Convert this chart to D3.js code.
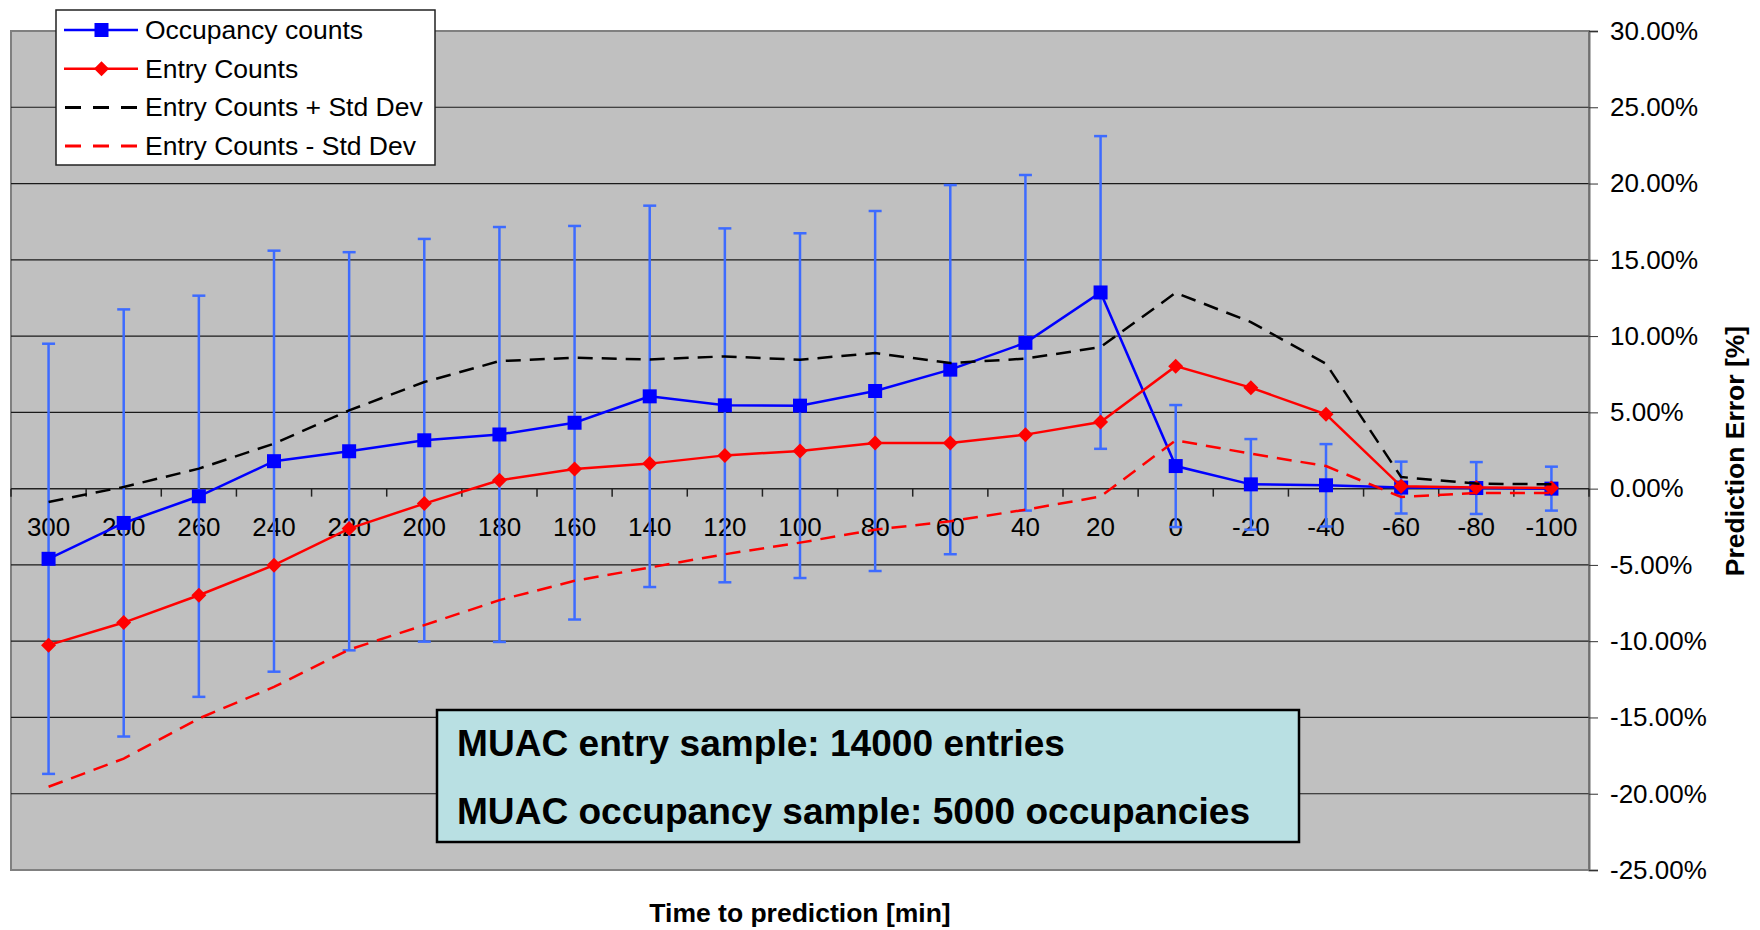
<!DOCTYPE html>
<html>
<head>
<meta charset="utf-8">
<script src="https://cdn.jsdelivr.net/npm/d3@7"></script>
<style>
  body { margin: 0; background: #fff; }
  svg { display: block; font-family: "Liberation Sans", Arial, sans-serif; }
</style>
</head>
<body>
<div id="chart"></div>
<script>
// time to prediction [min]
const categories = [300, 280, 260, 240, 220, 200, 180, 160, 140, 120, 100, 80, 60, 40, 20, 0, -20, -40, -60, -80, -100];
// prediction error [%]
const occupancy = [-4.6, -2.25, -0.5, 1.8, 2.45, 3.17, 3.55, 4.32, 6.05, 5.46, 5.44, 6.4, 7.8, 9.56, 12.86, 1.48, 0.28, 0.22, 0.07, 0.04, 0.0];
const occupancyErr = [14.1, 14.0, 13.15, 13.8, 13.05, 13.2, 13.6, 12.9, 12.5, 11.6, 11.3, 11.8, 12.1, 11.0, 10.25, 4.0, 2.97, 2.7, 1.7, 1.7, 1.44];
const entry = [-10.26, -8.78, -6.99, -5.02, -2.62, -0.98, 0.55, 1.29, 1.64, 2.18, 2.47, 2.99, 2.99, 3.54, 4.37, 8.03, 6.62, 4.87, 0.15, 0.07, 0.04];
const entryPlusStd = [-0.87, 0.11, 1.31, 2.95, 5.13, 6.99, 8.36, 8.58, 8.47, 8.67, 8.45, 8.89, 8.23, 8.52, 9.28, 12.84, 10.92, 8.19, 0.76, 0.33, 0.28];
const entryMinusStd = [-19.54, -17.7, -15.07, -13.0, -10.55, -8.95, -7.31, -6.04, -5.17, -4.3, -3.54, -2.69, -2.14, -1.38, -0.52, 3.17, 2.29, 1.48, -0.55, -0.28, -0.28];
const yTicks = [30, 25, 20, 15, 10, 5, 0, -5, -10, -15, -20, -25];
const legendLabels = ["Occupancy counts", "Entry Counts", "Entry Counts + Std Dev", "Entry Counts - Std Dev"];
const noteLines = ["MUAC entry sample: 14000 entries", "MUAC occupancy sample: 5000 occupancies"];

const width = 1760, height = 930;
const plot = { left: 11, right: 1589, top: 31, bottom: 870 };

const svg = d3.select("#chart").append("svg").attr("width", width).attr("height", height);

const x = d3.scaleBand().domain(categories).range([plot.left, plot.right]).padding(0);
const cx = c => x(c) + x.bandwidth() / 2;
const y = d3.scaleLinear().domain([-25, 30]).range([plot.bottom, plot.top]);

// plot area
svg.append("rect")
    .attr("x", plot.left).attr("y", plot.top)
    .attr("width", plot.right - plot.left).attr("height", plot.bottom - plot.top)
    .attr("fill", "#c0c0c0")
    .attr("stroke", "#808080")
    .attr("stroke-width", 2);

// gridlines
svg.append("g")
    .selectAll("line")
    .data(yTicks.filter(t => t !== 0 && t !== 30 && t !== -25))
    .enter().append("line")
    .attr("x1", plot.left).attr("x2", plot.right)
    .attr("y1", d => y(d)).attr("y2", d => y(d))
    .attr("stroke", "#1a1a1a")
    .attr("stroke-width", 1.2);

// right value axis (plain hyphen for negatives, like the original)
const pct = d => d3.format(".2f")(d).replace("\u2212", "-") + "%";
const yAxis = svg.append("g")
    .attr("transform", `translate(${plot.right},0)`)
    .call(d3.axisRight(y).tickValues(yTicks).tickSize(9).tickPadding(12).tickFormat(pct));
yAxis.select(".domain").attr("stroke", "#707070").attr("stroke-width", 2);
yAxis.selectAll(".tick line").attr("stroke", "#333");
yAxis.selectAll("text")
    .attr("font-size", 26)
    .attr("font-family", "Liberation Sans, Arial, sans-serif")
    .attr("fill", "#000");

// category axis at 0
const xAxis = svg.append("g")
    .attr("transform", `translate(0,${y(0)})`)
    .call(d3.axisBottom(x).tickSize(0).tickPadding(29));
xAxis.select(".domain").remove();
xAxis.selectAll("text")
    .attr("font-size", 26)
    .attr("font-family", "Liberation Sans, Arial, sans-serif")
    .attr("fill", "#000");
svg.append("line")
    .attr("x1", plot.left).attr("x2", plot.right)
    .attr("y1", y(0)).attr("y2", y(0))
    .attr("stroke", "#222").attr("stroke-width", 1.5);
svg.append("g")
    .selectAll("line")
    .data(categories.concat([null]))
    .enter().append("line")
    .attr("x1", (d, i) => i < categories.length ? x(d) : plot.right)
    .attr("x2", (d, i) => i < categories.length ? x(d) : plot.right)
    .attr("y1", y(0)).attr("y2", y(0) + 8)
    .attr("stroke", "#222").attr("stroke-width", 1.5);

const line = d3.line().x((d, i) => cx(categories[i])).y(d => y(d));

// occupancy error bars
const errG = svg.append("g").attr("stroke", "#3d6bff").attr("stroke-width", 2.5);
categories.forEach((c, i) => {
    const top = y(occupancy[i] + occupancyErr[i]);
    const bot = y(occupancy[i] - occupancyErr[i]);
    errG.append("line").attr("x1", cx(c)).attr("x2", cx(c)).attr("y1", top).attr("y2", bot);
    errG.append("line").attr("x1", cx(c) - 6.5).attr("x2", cx(c) + 6.5).attr("y1", top).attr("y2", top);
    errG.append("line").attr("x1", cx(c) - 6.5).attr("x2", cx(c) + 6.5).attr("y1", bot).attr("y2", bot);
});

// occupancy counts
svg.append("path").datum(occupancy)
    .attr("d", line).attr("fill", "none")
    .attr("stroke", "#0000ff").attr("stroke-width", 2.5);
svg.append("g").selectAll("rect")
    .data(occupancy).enter().append("rect")
    .attr("x", (d, i) => cx(categories[i]) - 7)
    .attr("y", d => y(d) - 7)
    .attr("width", 14).attr("height", 14)
    .attr("fill", "#0000ff");

// entry counts
const diamond = (px, py, r) => `M${px},${py - r}L${px + r},${py}L${px},${py + r}L${px - r},${py}Z`;
svg.append("path").datum(entry)
    .attr("d", line).attr("fill", "none")
    .attr("stroke", "#ff0000").attr("stroke-width", 2.5);
svg.append("g").selectAll("path")
    .data(entry).enter().append("path")
    .attr("d", (d, i) => diamond(cx(categories[i]), y(d), 7.5))
    .attr("fill", "#ff0000");

// std dev bands
svg.append("path").datum(entryPlusStd)
    .attr("d", line).attr("fill", "none")
    .attr("stroke", "#000").attr("stroke-width", 2.5)
    .attr("stroke-dasharray", "15,9");
svg.append("path").datum(entryMinusStd)
    .attr("d", line).attr("fill", "none")
    .attr("stroke", "#ff0000").attr("stroke-width", 2.5)
    .attr("stroke-dasharray", "15,9");

// sample size note
svg.append("rect")
    .attr("x", 437).attr("y", 710)
    .attr("width", 862).attr("height", 132)
    .attr("fill", "#b9e0e3")
    .attr("stroke", "#000").attr("stroke-width", 2.5);
svg.append("g").selectAll("text")
    .data(noteLines).enter().append("text")
    .attr("x", 457)
    .attr("y", (d, i) => 756 + i * 67.5)
    .attr("font-size", 36.5)
    .attr("font-weight", "bold")
    .attr("textLength", (d, i) => [608, 793][i])
    .attr("lengthAdjust", "spacingAndGlyphs")
    .text(d => d);

// axis titles
svg.append("text")
    .attr("x", (plot.left + plot.right) / 2)
    .attr("y", 922)
    .attr("text-anchor", "middle")
    .attr("font-size", 26.5)
    .attr("font-weight", "bold")
    .text("Time to prediction [min]");
svg.append("text")
    .attr("transform", `translate(1744,451) rotate(-90)`)
    .attr("text-anchor", "middle")
    .attr("font-size", 26.5)
    .attr("font-weight", "bold")
    .text("Prediction Error [%]");

// legend
const legend = svg.append("g");
legend.append("rect")
    .attr("x", 56).attr("y", 10)
    .attr("width", 379).attr("height", 155)
    .attr("fill", "#fff")
    .attr("stroke", "#222").attr("stroke-width", 1.5);
const legendStyles = [
    { color: "#0000ff", dash: null, marker: "square" },
    { color: "#ff0000", dash: null, marker: "diamond" },
    { color: "#000", dash: "16,12", marker: null },
    { color: "#ff0000", dash: "16,12", marker: null }
];
legendLabels.forEach((label, i) => {
    const ry = 30 + i * 38.7;
    const st = legendStyles[i];
    legend.append("line")
        .attr("x1", st.dash ? 65 : 64).attr("x2", 138).attr("y1", ry).attr("y2", ry)
        .attr("stroke", st.color).attr("stroke-width", st.dash ? 3 : 2.5)
        .attr("stroke-dasharray", st.dash);
    if (st.marker === "square") {
        legend.append("rect").attr("x", 94.5).attr("y", ry - 7).attr("width", 14).attr("height", 14).attr("fill", st.color);
    } else if (st.marker === "diamond") {
        legend.append("path").attr("d", diamond(101.5, ry, 7.5)).attr("fill", st.color);
    }
    legend.append("text")
        .attr("x", 145).attr("y", ry + 9)
        .attr("font-size", 26.5)
        .text(label);
});
</script>
</body>
</html>
